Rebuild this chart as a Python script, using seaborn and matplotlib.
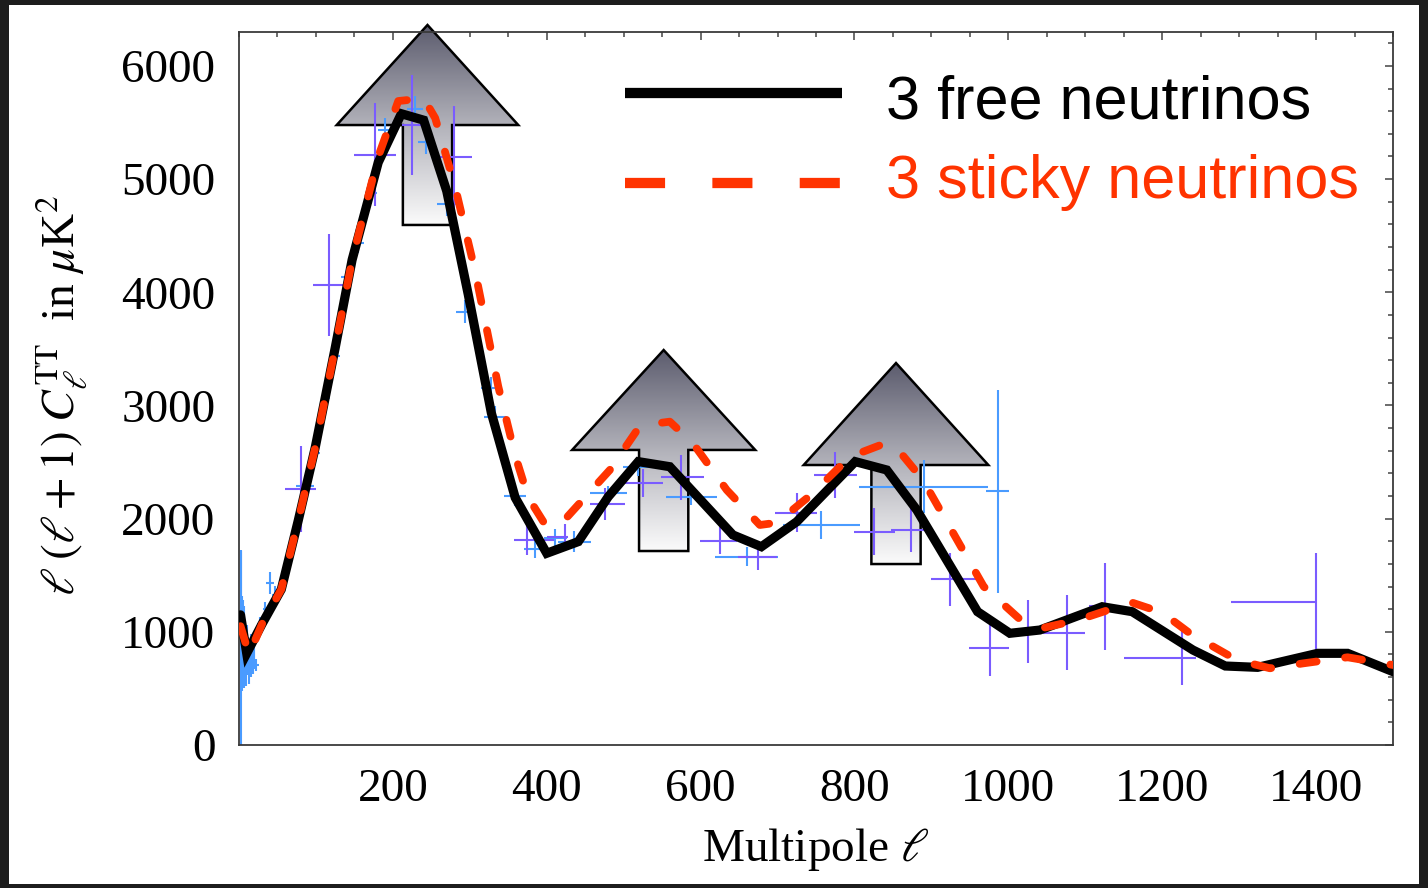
import numpy as np
import matplotlib
matplotlib.use("Agg")
import matplotlib.pyplot as plt
from matplotlib.patches import Polygon, Rectangle
from matplotlib.colors import LinearSegmentedColormap
from matplotlib.ticker import MultipleLocator
import seaborn as sns
import pandas as pd

# ---- model spectra: l(l+1) C_l^TT in muK^2 ----
ell_free = [2, 10, 30, 55, 77, 99, 125, 147, 181, 211, 240, 270, 298, 328, 359,
            400, 441, 480, 519, 560, 642, 679, 725, 801, 842, 881, 960, 1002,
            1041, 1122, 1161, 1240, 1282, 1324, 1402, 1441, 1500]
cl_free = [1150, 810, 1070, 1375, 1983, 2626, 3508, 4286, 5148, 5578, 5521, 4895,
           3980, 2934, 2186, 1694, 1797, 2194, 2504, 2459, 1856, 1752, 1973, 2504,
           2430, 2077, 1178, 987, 1016, 1222, 1178, 839, 698, 686, 810, 810, 648]

ell_sticky = [2, 13, 30, 55, 77, 99, 125, 147, 181, 207, 240, 255, 281, 307, 337,
              359, 376, 398, 421, 482, 519, 543, 560, 590, 634, 677, 699, 746, 794,
              840, 859, 889, 968, 1016, 1043, 1091, 1160, 1200, 1236, 1297, 1340,
              1384, 1441, 1500]
cl_sticky = [1050, 800, 1070, 1375, 1983, 2626, 3508, 4286, 5199, 5690, 5714, 5540,
             4930, 4183, 3168, 2558, 2186, 1947, 1973, 2430, 2798, 2842, 2857, 2666,
             2253, 1944, 1964, 2224, 2547, 2666, 2590, 2342, 1400, 1105, 1031, 1105,
             1260, 1170, 987, 751, 678, 722, 775, 707]

# ---- WMAP-like band powers (light blue) ----
wmap_lo_ell = [2, 3, 4, 5, 6, 7, 8, 9, 10, 11, 12, 13, 14, 15, 16, 17, 18, 19, 20]
wmap_lo_cl = [860, 1150, 900, 950, 760, 1000, 850, 700, 900, 760, 820, 660, 780,
              880, 700, 840, 720, 800, 760]
wmap_lo_err = [860, 560, 420, 330, 260, 230, 200, 180, 160, 140, 130, 120, 110,
               105, 100, 95, 90, 88, 85]

wmap_ell = [22, 27, 34, 40, 47, 86, 99, 112, 125, 140, 155, 172, 190, 229, 243,
            270, 294, 328, 333, 359, 385, 411, 436, 480, 519, 588, 660, 757, 890, 986]
wmap_cl = [707, 1069, 1204, 1430, 1325, 2291, 2580, 3066, 3437, 4135, 4438, 4878,
           5436, 5623, 5331, 4776, 3828, 3151, 2898, 2203, 1732, 1829, 1797, 2230,
           2454, 2189, 1664, 1944, 2283, 2240]
wmap_xerr = [4, 3, 3, 5, 4, 12, 6, 6, 6, 7, 8, 8, 9, 10, 10, 12, 12, 14, 14, 14,
             15, 15, 21, 24, 20, 33, 41, 50, 84, 15]
wmap_yerr = [50, 60, 60, 95, 80, 70, 70, 80, 80, 90, 90, 100, 100, 110, 110, 100,
             100, 100, 100, 90, 80, 80, 90, 60, 80, 65, 85, 125, 235, 897]

# ---- small-scale experiment band powers (violet) ----
vio_ell = [80, 117, 177, 225, 280, 374, 424, 476, 525, 575, 625, 675, 725, 775,
           825, 874, 924, 976, 1025, 1076, 1125, 1226, 1400]
vio_cl = [2262, 4065, 5216, 5480, 5199, 1811, 1840, 2130, 2313, 2366, 1805, 1664,
          2053, 2386, 1885, 1900, 1464, 854, 1001, 992, 1225, 773, 1260]
vio_xlo = [20, 21, 27, 13, 23, 16, 24, 20, 23, 26, 26, 26, 28, 28, 26, 26, 24, 27,
           20, 31, 20, 76, 110]
vio_xhi = [20, 21, 27, 13, 23, 36, 4, 26, 26, 29, 22, 24, 26, 28, 28, 28, 35, 25,
           20, 24, 20, 18, 0]
vio_yerr = [380, 450, 455, 440, 450, 130, 110, 140, 125, 200, 118, 118, 170, 206,
            205, 191, 235, 245, 280, 330, 386, 243, 435]

# up-arrows marking the acoustic peaks: (tip l, tip, head base, shaft bottom,
# head half-width, shaft half-width), in data units
arrow_specs = [
    (245, 6362, 5478, 4595, 118, 32),
    (552, 3490, 2607, 1714, 119, 32),
    (854, 3375, 2474, 1599, 120, 32),
]

sns.set_theme(style="white")
plt.rcParams["font.family"] = ["Liberation Serif", "DejaVu Serif"]
plt.rcParams["mathtext.fontset"] = "stix"

W, H = 1428, 888
fig = plt.figure(figsize=(W / 100, H / 100), dpi=100, facecolor="#1d1d1d")
panel = Rectangle((9 / W, 1 - 884 / H), (1419 - 9) / W, (884 - 5) / H,
                  transform=fig.transFigure, facecolor="white",
                  edgecolor="none", zorder=-10)
fig.patches.append(panel)

ax = fig.add_axes([239 / W, 1 - 745 / H, (1393 - 239) / W, (745 - 32) / H])
ax.set_facecolor("white")
ax.set_zorder(1)

# gradient-filled arrows
grad = LinearSegmentedColormap.from_list("arrowgrad", ["#fbfbfb", "#b2b2ba", "#5c5c6e"])
for (xc, tip, head, bot, hw, sw) in arrow_specs:
    verts = [(xc, tip), (xc + hw, head), (xc + sw, head), (xc + sw, bot),
             (xc - sw, bot), (xc - sw, head), (xc - hw, head)]
    poly = Polygon(verts, closed=True, facecolor="none", edgecolor="black",
                   linewidth=1.8, zorder=1.5, clip_on=False, joinstyle="miter")
    ax.add_patch(poly)
    g = np.linspace(0, 1, 256).reshape(-1, 1)
    im = ax.imshow(g, cmap=grad, origin="lower", aspect="auto",
                   extent=(xc - hw, xc + hw, bot, tip), zorder=1.2,
                   interpolation="bilinear")
    im.set_clip_path(poly)
    im.set_clip_box(fig.bbox)
ax.set_xlim(0, 1500)
ax.set_ylim(0, 6300)

c_wmap = "#4a9bff"
c_vio = "#7a5cff"
ax.errorbar(wmap_lo_ell, wmap_lo_cl, yerr=wmap_lo_err, fmt="none", ecolor=c_wmap,
            elinewidth=1.5, capsize=0, zorder=2)
ax.errorbar(wmap_ell, wmap_cl, xerr=wmap_xerr, yerr=wmap_yerr, fmt="none",
            ecolor=c_wmap, elinewidth=1.5, capsize=0, zorder=2)
ax.errorbar(vio_ell, vio_cl, xerr=[vio_xlo, vio_xhi], yerr=vio_yerr, fmt="none",
            ecolor=c_vio, elinewidth=1.5, capsize=0, zorder=2.1)

free_df = pd.DataFrame({"ell": ell_free, "cl": cl_free})
sticky_df = pd.DataFrame({"ell": ell_sticky, "cl": cl_sticky})
sns.lineplot(data=free_df, x="ell", y="cl", ax=ax, color="black", linewidth=6.6,
             estimator=None, sort=False, zorder=3)
ax.lines[-1].set_solid_joinstyle("miter")
sns.lineplot(data=sticky_df, x="ell", y="cl", ax=ax, color="#ff3300", linewidth=5.6,
             estimator=None, sort=False, zorder=4)
red = ax.lines[-1]
red.set_dashes([2.2, 3.7])
red.set_dash_capstyle("round")

# legend drawn in axes coordinates
def fx(px):
    return (px - 239) / 1154.0

def fy(py):
    return (745 - py) / 713.0

ax.plot([fx(625), fx(842)], [fy(93), fy(93)], transform=ax.transAxes, color="black",
        linewidth=7.4, solid_capstyle="butt", clip_on=False, zorder=5)
ax.plot([fx(625), fx(842)], [fy(183), fy(183)], transform=ax.transAxes,
        color="#ff3300", linewidth=7.4, dashes=[3.9, 4.6], dash_capstyle="butt",
        clip_on=False, zorder=5)
ax.text(fx(886), fy(118), "3 free neutrinos", transform=ax.transAxes,
        fontsize=44, family=["Liberation Sans", "DejaVu Sans"], color="black",
        ha="left", va="baseline", zorder=5)
ax.text(fx(886), fy(198), "3 sticky neutrinos", transform=ax.transAxes,
        fontsize=44, family=["Liberation Sans", "DejaVu Sans"], color="#ff3300",
        ha="left", va="baseline", zorder=5)

# axes styling
ax.xaxis.set_major_locator(MultipleLocator(200))
ax.xaxis.set_minor_locator(MultipleLocator(50))
ax.yaxis.set_major_locator(MultipleLocator(1000))
ax.yaxis.set_minor_locator(MultipleLocator(200))
ax.set_xticks([200, 400, 600, 800, 1000, 1200, 1400])
ax.tick_params(which="both", direction="in", top=True, right=True, color="#444444",
               width=1.1, labelsize=34, labelcolor="black")
ax.tick_params(which="major", length=6, pad=17)
ax.tick_params(which="minor", length=3.5)
for s in ax.spines.values():
    s.set_color("#3a3a3a")
    s.set_linewidth(1.3)

ax.set_xlabel(r"Multipole $\ell$", fontsize=34, labelpad=11, color="black")
ax.set_ylabel(r"$\ell\;(\ell + 1)\;C_\ell^{\mathrm{TT}}\;$ in $\mu$K$^2$", fontsize=34,
              color="black")
ax.yaxis.set_label_coords(-0.13, 0.49)

fig.savefig("out.png", dpi=100, facecolor=fig.get_facecolor())
